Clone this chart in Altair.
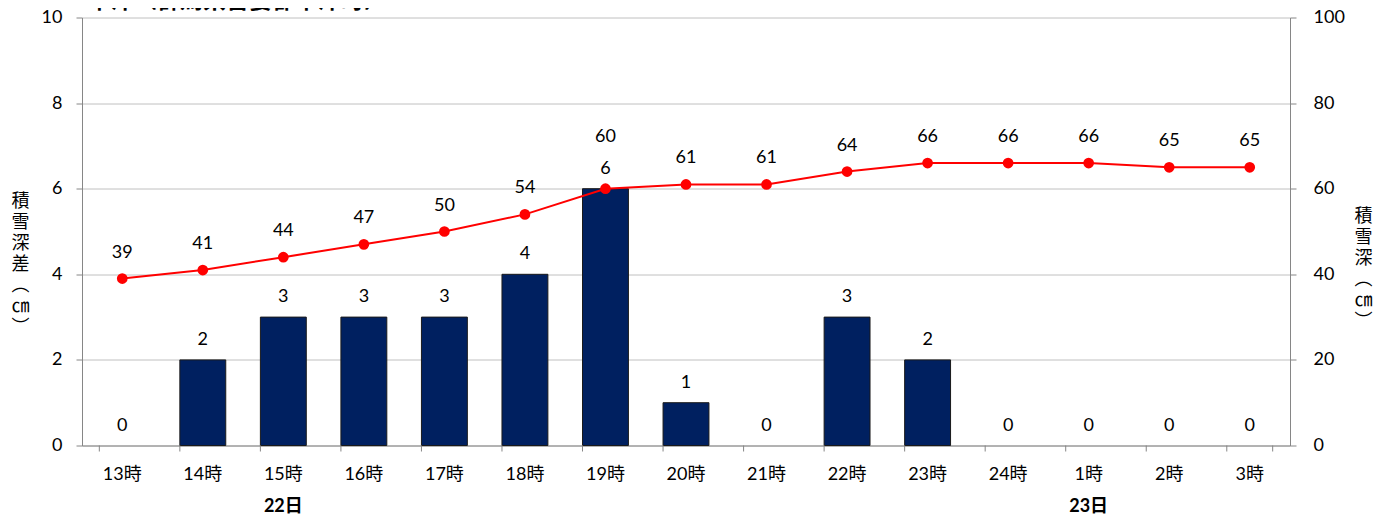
import altair as alt
import pandas as pd

hours = ["13時", "14時", "15時", "16時", "17時", "18時", "19時", "20時",
         "21時", "22時", "23時", "24時", "1時", "2時", "3時"]
diff = [0, 2, 3, 3, 3, 4, 6, 1, 0, 3, 2, 0, 0, 0, 0]
depth = [39, 41, 44, 47, 50, 54, 60, 61, 61, 64, 66, 66, 66, 65, 65]
day_labels = ["22日", "23日"]
day_at = ["15時", "1時"]
title_text = "草津（群馬県吾妻郡草津町）"
left_title = ["積", "雪", "深", "差", "︵", "㎝", "︶"]
right_title = ["積", "雪", "深", "︵", "㎝", "︶"]

W, H = 1208, 428
FONT = "Lato, 'Noto Sans CJK JP', sans-serif"
GRAY = "#868686"

df = pd.DataFrame({"hour": hours, "diff": diff, "depth": depth})
days = pd.DataFrame({"hour": day_at, "label": day_labels})
last = pd.DataFrame({"hour": [hours[-1]]})
ttl = pd.DataFrame({"t": [title_text]})

xscale = alt.Scale(domain=hours, paddingInner=0.43, paddingOuter=0.215)
xaxis = alt.Axis(title=None, ticks=False, labelAngle=0, labelPadding=20,
                 labelFontSize=18, labelFont=FONT, labelColor="#000",
                 domainColor=GRAY, grid=False)
X = alt.X("hour:N", sort=hours, scale=xscale, axis=xaxis)

base = alt.Chart(df)

bars = base.transform_filter("datum.diff > 0").mark_bar(
    color="#002060", stroke="#1a1a1a", strokeWidth=1).encode(
    x=X,
    y=alt.Y("diff:Q", scale=alt.Scale(domain=[0, 10]),
            axis=alt.Axis(orient="left", values=[0, 2, 4, 6, 8, 10],
                          title=left_title, titleAngle=0, titleFontSize=18,
                          titleFont=FONT, titleFontWeight="normal",
                          titleLineHeight=21, titleX=-62, titleY=184,
                          titleBaseline="middle", titleAlign="center",
                          labelFontSize=18, labelFont=FONT, labelColor="#000",
                          labelPadding=14, tickSize=6, tickColor=GRAY,
                          domainColor=GRAY, grid=True, gridColor="#c0c0c0")),
)
bar_text = base.mark_text(fontSize=18, font=FONT, color="#000",
                          baseline="alphabetic", dy=-15).encode(
    x=X, y=alt.Y("diff:Q", scale=alt.Scale(domain=[0, 10])), text="diff:Q")
left_group = alt.layer(bars, bar_text)

line = base.mark_line(color="#ff0000", strokeWidth=2).encode(
    x=X,
    y=alt.Y("depth:Q", scale=alt.Scale(domain=[0, 100]),
            axis=alt.Axis(orient="right", values=[0, 20, 40, 60, 80, 100],
                          title=right_title, titleAngle=0, titleFontSize=18,
                          titleFont=FONT, titleFontWeight="normal",
                          titleLineHeight=21, titleX=73, titleY=199,
                          titleBaseline="middle", titleAlign="center",
                          labelFontSize=18, labelFont=FONT, labelColor="#000",
                          labelPadding=17, tickSize=6, tickColor=GRAY,
                          domainColor=GRAY, grid=False)),
)
pts = base.mark_circle(color="#ff0000", size=115, opacity=1).encode(
    x=X, y="depth:Q")
# lift a line label when it would sit on top of the bar label
pt_text = base.transform_calculate(
    ly="abs(datum.depth / 10 - datum.diff) < 0.6 ? datum.depth + 6 : datum.depth"
).mark_text(fontSize=18, font=FONT, color="#000",
            baseline="alphabetic", dy=-21).encode(
    x=X, y="ly:Q", text="depth:Q")
right_group = alt.layer(line, pts, pt_text)

ticks = alt.Chart(df).mark_rule(color=GRAY, strokeWidth=1).encode(
    x=alt.X("hour:N", sort=hours, scale=xscale, bandPosition=0),
    y=alt.value(H), y2=alt.value(H + 6))
tick_end = alt.Chart(last).mark_rule(color=GRAY, strokeWidth=1).encode(
    x=alt.X("hour:N", sort=hours, scale=xscale, bandPosition=1),
    y=alt.value(H), y2=alt.value(H + 6))

day_text = alt.Chart(days).mark_text(fontSize=18, font=FONT, fontWeight="bold",
                                     color="#000", baseline="middle").encode(
    x=alt.X("hour:N", sort=hours, scale=xscale), y=alt.value(H + 61),
    text="label:N")

title = alt.Chart(ttl).mark_text(fontSize=23, font=FONT, fontWeight="bold",
                                 color="#000", align="left",
                                 baseline="alphabetic").encode(
    x=alt.value(6), y=alt.value(-10), text="t:N")

chart = alt.layer(left_group, right_group, ticks, tick_end, day_text, title).resolve_scale(
    y="independent"
).properties(
    width=W, height=H,
    autosize=alt.AutoSizeParams(type="none"),
    padding={"left": 74, "top": 9.5, "right": 90, "bottom": 69.5},
).configure_view(strokeWidth=0)

chart.save("out.html", embed_options={"renderer": "svg", "actions": False})
